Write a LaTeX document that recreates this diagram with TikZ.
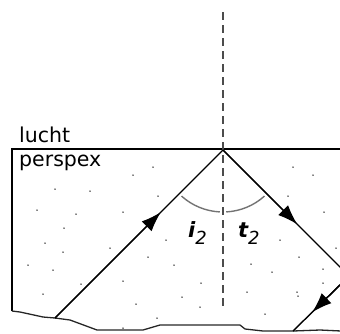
\documentclass[tikz,border=0pt]{standalone}
\usepackage{fontspec}
\setmainfont{DejaVu Sans}
\usetikzlibrary{arrows.meta,calc}
\begin{document}
\begin{tikzpicture}[x=1pt,y=-1pt,
  ray/.style={line width=1.4pt,black},
  tip/.style={-{Latex[length=20pt,width=14pt]}},
  boundary/.style={line width=1.8pt,black},
  bottom/.style={line width=1.3pt,black!85},
  normal/.style={line width=1.1pt,black!70,dash pattern=on 8pt off 5pt},
  anglearc/.style={line width=1.4pt,black!55},
  dot/.style={fill=black,inner sep=0pt,minimum size=1.5pt,circle},
  medium/.style={font=\fontsize{20.5}{22}\selectfont,inner sep=0pt,anchor=base west},
  anglelab/.style={inner sep=0pt,anchor=base west}]
\useasboundingbox (0,0) rectangle (340,333);
% coordinates
\coordinate (V) at (223,150);
\coordinate (TL) at (12,149);
\coordinate (TR) at (341,149);
\coordinate (BL) at (12,311);
\coordinate (NT) at (223,12);
\coordinate (NB) at (223,308);
\coordinate (Pin) at (55,318);
\coordinate (Pout) at (341,268);
\coordinate (Qin) at (341,284);
\coordinate (Qout) at (293,331);
% dots
\foreach \p in {(55,189),(90,191),(37,210),(76,214),(64,228),(45,243),(110,248),(63,252),(28,265),(53,270),(81,284),(43,294),
(153,167),(133,175),(158,196),(123,212),(166,240),(148,257),(174,265),(123,281),(201,283),(182,297),(136,304),(200,307),(157,318),(123,328),
(293,167),(313,175),(288,196),(324,212),(280,240),(336,248),(299,257),(251,264),(272,272),(323,269),(323,283),(247,292),(297,292),(298,296),(265,314)}
  \node[dot] at \p {};
% boundaries
\draw[boundary] (TR) -- (TL) -- (BL);
\draw[bottom] (BL) -- (20,312) -- (43,317) -- (Pin) -- (70,320) -- (97,330) -- (143,330) -- (160,325) -- (240,325) -- (245,329) -- (263,331) -- (Qout) -- (320,330) -- (341,331);
% normal
\draw[normal] (NT) -- (NB);
% angle arcs
\draw[anglearc] (V) ++(132:62) arc[start angle=132,end angle=93,radius=62];
\draw[anglearc] (V) ++(87:62) arc[start angle=87,end angle=48,radius=62];
% rays
\draw[ray] (Pin) -- (V);
\draw[ray,tip] (Pin) -- ($(Pin)!0.63!(V)$);
\draw[ray] (V) -- (Pout);
\draw[ray,tip] (V) -- ($(V)!0.63!(Pout)$);
\draw[ray] (Qin) -- (Qout);
\draw[ray,tip] (Qin) -- ($(Qin)!0.6!(Qout)$);
% labels
\node[medium] (lucht) at (19,142) {lucht};
\node[medium] (perspex) at (19,166) {perspex};
\node[anglelab] (i2) at (188,237) {\fontsize{21}{21}\selectfont\bfseries\itshape i\raisebox{-7pt}{\fontsize{18}{18}\selectfont\mdseries 2}};
\node[anglelab] (t2) at (238,237) {\fontsize{21}{21}\selectfont\bfseries\itshape t\raisebox{-7pt}{\fontsize{18}{18}\selectfont\mdseries 2}};
\end{tikzpicture}
\end{document}
